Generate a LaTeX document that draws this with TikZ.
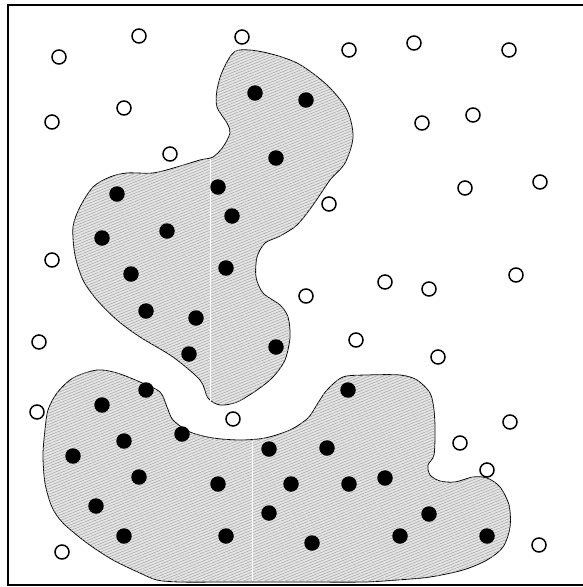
\documentclass[tikz,border=0pt]{standalone}
\usetikzlibrary{patterns.meta}

\begin{document}
\begin{tikzpicture}[x=1pt,y=-1pt,
  blob/.style={draw=black,line width=0.8pt,fill=gray!20,
    postaction={pattern={Lines[angle=22,distance=2.6pt,line width=0.55pt]},pattern color=gray!70}},
  insidedot/.style={circle,fill=black,inner sep=0pt,minimum size=15.5pt},
  outsidedot/.style={circle,draw=black,fill=white,line width=1.5pt,inner sep=0pt,minimum size=14pt},
  cutline/.style={white,line width=0.9pt}]
\useasboundingbox (0,0) rectangle (582,587);
\draw[line width=1.6pt] (583,5) -- (8,5) -- (8,585) -- (583,585);

% upper region
\draw[blob] plot[smooth cycle,tension=0.5] coordinates {
  (236,51) (263,52) (297,63) (327,85) (347,110) (353,137) (345,163)
  (330,180) (313,205) (297,225) (280,236) (265,243) (257,257) (256,277)
  (263,293) (280,305) (288,317) (290,337) (285,360) (273,377) (257,390)
  (237,402) (220,405) (208,398) (200,380) (173,357) (140,337) (117,320)
  (97,300) (83,280) (75,255) (73,227) (80,207) (93,187) (110,177)
  (127,173) (153,173) (177,167) (200,160) (213,157) (223,147) (230,133)
  (227,123) (217,107) (217,90) (223,70)};
\draw[cutline] (210,159) -- (210,401);

% lower region
\draw[blob] plot[smooth cycle,tension=0.5] coordinates {
  (97,370) (117,373) (140,382) (160,392) (167,407) (173,420) (190,432)
  (213,438) (240,440) (265,438) (290,430) (308,418) (318,403) (327,390)
  (343,377) (367,375) (400,375) (417,380) (430,393) (434,410) (435,430)
  (434,455) (428,465) (430,475) (440,481) (455,482) (473,477) (487,478)
  (500,487) (509,505) (510,527) (503,547) (487,560) (463,570) (430,577)
  (397,580) (363,582) (300,582) (230,582) (180,582) (157,580) (140,573)
  (113,560) (87,543) (63,523) (52,507) (45,483) (43,455) (45,430)
  (48,410) (57,393) (73,378)};
\draw[cutline] (252,441) -- (252,581);

% members
\foreach \x/\y [count=\i] in {255/93,306/100,276/158,218/187,232/216,117/194,
  167/231,102/238,226/268,131/274,146/311,196/318,189/354,276/347}
  \node[insidedot] (up\i) at (\x,\y) {};
\foreach \x/\y [count=\i] in {146/390,102/405,182/434,124/441,73/456,139/477,
  218/484,269/449,96/506,269/513,124/536,226/536,348/390,327/448,291/484,
  349/484,385/478,429/514,312/543,400/536,487/536}
  \node[insidedot] (low\i) at (\x,\y) {};

% non-members
\foreach \x/\y [count=\i] in {59/57,139/36,242/37,349/50,414/43,509/50,
  52/122,124/108,170/154,422/123,473/115,465/188,540/182,329/204,
  52/260,516/275,385/282,429/289,306/296,39/342,356/340,438/357,
  37/412,233/419,460/443,510/422,487/470,62/552,539/545}
  \node[outsidedot] (out\i) at (\x,\y) {};
\end{tikzpicture}
\end{document}
